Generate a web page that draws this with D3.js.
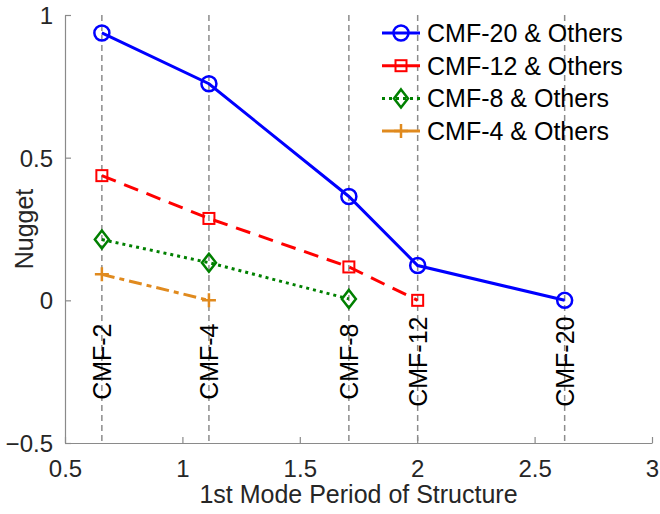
<!DOCTYPE html>
<html>
<head>
<meta charset="utf-8">
<script src="https://cdn.jsdelivr.net/npm/d3@7"></script>
<style>
  html, body { margin: 0; padding: 0; background: #fff; }
  svg text { font-family: "Liberation Sans", Arial, Helvetica, sans-serif; }
</style>
</head>
<body>
<svg id="chart" width="660" height="514"></svg>
<script>
// First-mode periods of the archetype frames (s)
const periods = [0.657, 1.113, 1.709, 2.002, 2.628];
const buildings = ["CMF-2", "CMF-4", "CMF-8", "CMF-12", "CMF-20"];

// Nugget values for each reference building combined with the others
const cmf20 = [0.937, 0.759, 0.364, 0.122, 0.0];
const cmf12 = [0.437, 0.287, 0.117, 0.0];
const cmf8 = [0.213, 0.132, 0.005];
const cmf4 = [0.091, 0.0];

const xTicks = [0.5, 1, 1.5, 2, 2.5, 3];
const yTicks = [-0.5, 0, 0.5, 1];

const series = [
  { name: "CMF-20 & Others", values: cmf20, color: "#0000ff", dash: null, marker: "circle" },
  { name: "CMF-12 & Others", values: cmf12, color: "#ff0000", dash: "15,9", marker: "square" },
  { name: "CMF-8 & Others", values: cmf8, color: "#008000", dash: "3,4", marker: "diamond" },
  { name: "CMF-4 & Others", values: cmf4, color: "#e08a1e", dash: "13,5,5,5", marker: "plus" }
];

const svg = d3.select("#chart");
const m = { left: 65, right: 8, top: 15, bottom: 71 };
const W = 660, H = 514;
const x = d3.scaleLinear().domain([0.5, 3]).range([m.left, W - m.right]);
const y = d3.scaleLinear().domain([-0.5, 1]).range([H - m.bottom, m.top]);

const axisColor = "#8a8a8a";
const textColor = "#262626";

// vertical reference lines at each building's period
const refs = svg.append("g");
periods.forEach((p, i) => {
  refs.append("line")
    .attr("x1", x(p)).attr("x2", x(p))
    .attr("y1", y(1)).attr("y2", y(-0.5))
    .attr("stroke", "#8c8c8c").attr("stroke-width", 1.5)
    .attr("stroke-dasharray", "6,4");
  refs.append("text")
    .attr("transform", `translate(${x(p)},${y(-0.215)}) rotate(-90)`)
    .attr("text-anchor", "middle")
    .attr("dominant-baseline", "central")
    .attr("font-size", 25)
    .attr("fill", "#000")
    .text(buildings[i]);
});

// axes
const xAxis = d3.axisBottom(x).tickValues(xTicks).tickFormat(d3.format("")).tickSizeInner(-6).tickSizeOuter(0).tickPadding(17);
const yAxis = d3.axisLeft(y).tickValues(yTicks).tickFormat(d3.format("")).tickSizeInner(-6).tickSizeOuter(0).tickPadding(12);

const gx = svg.append("g").attr("transform", `translate(0,${y(-0.5)})`).call(xAxis);
const gy = svg.append("g").attr("transform", `translate(${x(0.5)},0)`).call(yAxis);
[gx, gy].forEach(g => {
  g.select(".domain").attr("stroke", axisColor).attr("stroke-width", 1.2);
  g.selectAll(".tick line").attr("stroke", axisColor).attr("stroke-width", 1.2);
  g.selectAll(".tick text").attr("fill", textColor).attr("font-size", 24)
    .style("font-family", '"Liberation Sans", Arial, Helvetica, sans-serif');
});
gy.selectAll(".tick text").attr("dy", "0.36em");

// axis titles
svg.append("text")
  .attr("x", (x(0.5) + x(3)) / 2).attr("y", 503)
  .attr("text-anchor", "middle").attr("font-size", 25).attr("fill", textColor)
  .text("1st Mode Period of Structure");
svg.append("text")
  .attr("transform", `translate(24,${(y(1) + y(-0.5)) / 2}) rotate(-90)`)
  .attr("text-anchor", "middle").attr("dominant-baseline", "central")
  .attr("font-size", 25).attr("fill", textColor)
  .text("Nugget");

function drawMarker(g, type, cx, cy, color) {
  const s = g.append("g").attr("transform", `translate(${cx},${cy})`)
    .attr("fill", "none").attr("stroke", color).attr("stroke-width", 2.5);
  if (type === "circle") s.append("circle").attr("r", 7.5);
  else if (type === "square") s.append("rect").attr("x", -5.5).attr("y", -5.5).attr("width", 11).attr("height", 11).attr("stroke-width", 2);
  else if (type === "diamond") s.append("path").attr("d", "M0,-9L7,0L0,9L-7,0Z");
  else if (type === "plus") s.append("path").attr("d", "M-7,0H7M0,-7V7");
}

const line = d3.line().x(d => x(d[0])).y(d => y(d[1]));
const plot = svg.append("g");
series.forEach(s => {
  const pts = s.values.map((v, i) => [periods[i], v]);
  plot.append("path").datum(pts)
    .attr("d", line)
    .attr("fill", "none").attr("stroke", s.color).attr("stroke-width", 3)
    .attr("stroke-dasharray", s.dash);
  pts.forEach(p => drawMarker(plot, s.marker, x(p[0]), y(p[1]), s.color));
});

// legend
const legend = svg.append("g");
series.forEach((s, i) => {
  const ly = 33 + i * 32.7;
  legend.append("line")
    .attr("x1", 382).attr("x2", 420).attr("y1", ly).attr("y2", ly)
    .attr("stroke", s.color).attr("stroke-width", 3)
    .attr("stroke-dasharray", s.marker === "diamond" ? "3,4" : null);
  drawMarker(legend, s.marker, 401, ly, s.color);
  legend.append("text")
    .attr("x", 427).attr("y", ly).attr("dominant-baseline", "central")
    .attr("font-size", 25).attr("fill", "#000")
    .text(s.name);
});
</script>
</body>
</html>
